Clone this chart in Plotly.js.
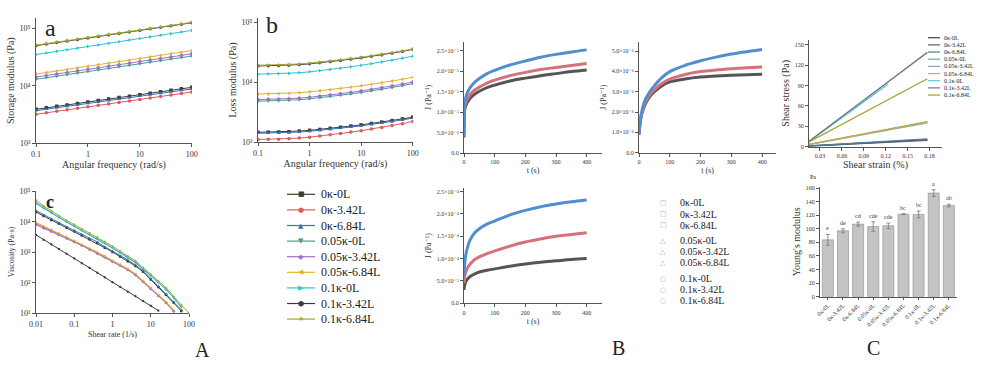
<!DOCTYPE html>
<html><head><meta charset="utf-8">
<script src="https://cdn.plot.ly/plotly-3.0.1.min.js"></script>
<style>html,body{margin:0;padding:0;background:#fff;} #chart{width:1000px;height:372px;}</style>
</head><body><div id="chart"></div>
<script>
// ---------- categories ----------
const seriesNames = ['0κ-0L','0κ-3.42L','0κ-6.84L','0.05κ-0L','0.05κ-3.42L','0.05κ-6.84L','0.1κ-0L','0.1κ-3.42L','0.1κ-6.84L'];

// ---------- a: storage modulus (Pa) vs angular frequency (rad/s) ----------
const angFreq = [0.1,0.158,0.251,0.398,0.631,1,1.58,2.51,3.98,6.31,10,15.8,25.1,39.8,63.1,100];
const gp_0k_0L    = [3900,4140,4390,4650,4930,5230,5550,5880,6240,6610,7010,7440,7880,8360,8870,9400];
const gp_0k_342L  = [3200,3400,3600,3820,4060,4310,4570,4850,5150,5460,5800,6150,6530,6930,7350,7800];
const gp_0k_684L  = [3700,3920,4150,4400,4660,4940,5230,5540,5870,6220,6590,6980,7400,7840,8310,8800];
const gp_005k_0L  = [13000,13830,14720,15660,16670,17740,18870,20080,21370,22740,24200,25750,27400,29160,31030,33000];
const gp_005k_342L= [14200,15110,16080,17110,18200,19370,20600,21920,23330,24820,26410,28100,29900,31810,33840,36000];
const gp_005k_684L= [16000,17040,18140,19310,20560,21890,23310,24820,26420,28130,29950,31890,33950,36150,38490,41000];
const gp_01k_0L   = [35000,37330,39810,42460,45290,48300,51520,54950,58610,62510,66670,71100,75840,80880,86270,92000];
const gp_01k_342L = [50000,53150,56500,60060,63840,67860,72140,76680,81510,86650,92110,97910,104100,110600,117600,125000];
const gp_01k_684L = [51000,54200,57600,61210,65050,69120,73460,78060,82960,88160,93690,99560,105800,112400,119500,127000];
const modTickVals = [1e3,1e4,1e5];
const modTickText = ['10³','10⁴','10⁵'];

// ---------- b: loss modulus (Pa) ----------
const gpp_0k_0L    = [1450,1458,1467,1484,1520,1565,1620,1688,1759,1843,1930,2034,2145,2274,2424,2600];
const gpp_0k_342L  = [1100,1108,1115,1131,1163,1203,1255,1318,1383,1461,1544,1643,1750,1876,2024,2200];
const gpp_0k_684L  = [1400,1408,1416,1433,1467,1510,1563,1628,1697,1777,1862,1960,2065,2186,2334,2500];
const gpp_005k_0L  = [4800,4832,4865,4931,5064,5237,5453,5717,5990,6322,6672,7085,7526,8054,8669,9400];
const gpp_005k_342L= [5100,5134,5169,5239,5381,5564,5794,6074,6365,6717,7089,7528,7997,8558,9211,10000];
const gpp_005k_684L= [6300,6341,6382,6464,6634,6848,7119,7447,7793,8203,8637,9154,9702,10345,11107,12000];
const gpp_01k_0L   = [13500,13595,13689,13878,14270,14769,15404,16173,16970,17928,18954,20169,21479,23018,24840,27000];
const gpp_01k_342L = [18500,18618,18739,18981,19462,20091,20887,21830,22829,24013,25271,26751,28324,30174,32357,35000];
const gpp_01k_684L = [19000,19121,19245,19490,19980,20620,21430,22390,23400,24590,25860,27350,28930,30790,32980,35500];

// ---------- c: viscosity (Pa·s) vs shear rate (1/s) ----------
const shearRate = [0.01,0.0158,0.0251,0.0398,0.0631,0.1,0.158,0.251,0.398,0.631,1,1.58,2.51,3.98,6.31,10,15.8,25.1,39.8,63.1,100];
const eta_0k_0L    = [20900,15500,11500,8710,6460,4900,3630,2690,2000,1410,1020,724,513,355,229,129,72.4,40.7,22.4,12.0];
const eta_0k_342L  = [8710,6760,5250,3980,3020,2290,1740,1290,955,708,513,380,275,186,112,66.1,38.9,22.9,12.0];
const eta_0k_684L  = [23400,17000,12600,9330,6920,5250,3890,2880,2190,1510,1100,776,562,380,251,138,77.6,43.7,24.0,12.9];
const eta_005k_0L  = [39800,27500,19500,13800,9770,7080,5130,3720,2750,1950,1380,955,661,457,282,170,102,60.3,31.6,15.8];
const eta_005k_342L= [7940,6170,4790,3720,2880,2190,1660,1230,912,676,490,363,263,178,107,63.1,37.2,21.9,11.5];
const eta_005k_684L= [9550,7240,5620,4270,3240,2450,1820,1350,1020,741,537,398,288,195,117,69.2,40.7,24.0,12.6];
const eta_01k_0L   = [44700,29500,20400,14100,9980,7240,5250,3800,2820,2000,1410,990,690,480,288,174,105,61.0,32.0,16.5];
const eta_01k_342L = [3720,2570,1820,1290,891,631,437,309,214,151,105,74.1,51.3,36.3,25.1,17.8,12.3];
const eta_01k_684L = [51300,33100,22900,15800,11200,8130,5890,4270,3160,2240,1580,1100,759,525,316,191,115,69.2,35.5,18.6,10];
const etaTickVals = [1e1,1e2,1e3,1e4,1e5];
const etaTickText = ['10¹','10²','10³','10⁴','10⁵'];

// ---------- B: creep compliance J (1/Pa) vs time (s) ----------
const creepTime = [0,2,5,10,20,35,50,75,100,150,200,250,300,350,400];
const J_0k_0L     = [0.30e-4,0.40e-4,0.47e-4,0.53e-4,0.60e-4,0.66e-4,0.70e-4,0.74e-4,0.77e-4,0.83e-4,0.88e-4,0.92e-4,0.95e-4,0.98e-4,1.00e-4];
const J_0k_342L   = [0.45e-4,0.58e-4,0.68e-4,0.77e-4,0.88e-4,0.98e-4,1.04e-4,1.11e-4,1.17e-4,1.28e-4,1.37e-4,1.44e-4,1.50e-4,1.54e-4,1.58e-4];
const J_0k_684L   = [0.60e-4,0.85e-4,1.05e-4,1.22e-4,1.42e-4,1.58e-4,1.67e-4,1.77e-4,1.84e-4,1.98e-4,2.08e-4,2.16e-4,2.22e-4,2.27e-4,2.31e-4];
const J_005k_0L   = [0.38e-5,1.03e-5,1.14e-5,1.23e-5,1.34e-5,1.44e-5,1.51e-5,1.60e-5,1.66e-5,1.76e-5,1.83e-5,1.89e-5,1.94e-5,1.99e-5,2.03e-5];
const J_005k_342L = [0.40e-5,1.09e-5,1.20e-5,1.31e-5,1.43e-5,1.54e-5,1.61e-5,1.71e-5,1.78e-5,1.89e-5,1.97e-5,2.04e-5,2.09e-5,2.14e-5,2.19e-5];
const J_005k_684L = [0.45e-5,1.19e-5,1.33e-5,1.46e-5,1.60e-5,1.73e-5,1.82e-5,1.94e-5,2.02e-5,2.15e-5,2.25e-5,2.34e-5,2.41e-5,2.47e-5,2.52e-5];
const J_01k_0L    = [0.90e-6,1.25e-6,1.60e-6,1.95e-6,2.38e-6,2.76e-6,3.00e-6,3.30e-6,3.48e-6,3.63e-6,3.72e-6,3.77e-6,3.81e-6,3.84e-6,3.86e-6];
const J_01k_342L  = [0.90e-6,1.30e-6,1.65e-6,2.00e-6,2.45e-6,2.85e-6,3.10e-6,3.42e-6,3.62e-6,3.85e-6,3.99e-6,4.07e-6,4.13e-6,4.18e-6,4.22e-6];
const J_01k_684L  = [0.90e-6,1.30e-6,1.70e-6,2.10e-6,2.60e-6,3.00e-6,3.30e-6,3.70e-6,3.99e-6,4.30e-6,4.52e-6,4.70e-6,4.85e-6,4.97e-6,5.08e-6];
const J1_tickText = ['0.0','5.0×10⁻⁶','1.0×10⁻⁵','1.5×10⁻⁵','2.0×10⁻⁵','2.5×10⁻⁵'];
const J1_tickVals = [0,5e-6,1e-5,1.5e-5,2e-5,2.5e-5];
const J2_tickText = ['0.0','1.0×10⁻⁶','2.0×10⁻⁶','3.0×10⁻⁶','4.0×10⁻⁶','5.0×10⁻⁶'];
const J2_tickVals = [0,1e-6,2e-6,3e-6,4e-6,5e-6];
const J3_tickText = ['0.0','5.0×10⁻⁵','1.0×10⁻⁴','1.5×10⁻⁴','2.0×10⁻⁴','2.5×10⁻⁴'];
const J3_tickVals = [0,5e-5,1e-4,1.5e-4,2e-4,2.5e-4];

// ---------- C top: shear stress (Pa) vs shear strain (%) ----------
const strainLong  = [0.015,0.05,0.09,0.13,0.177];
const strainShort = [0.015,0.05,0.09,0.123];
const tau_0k_0L    = [1.0,3.2,5.6,7.9,10.4];
const tau_0k_342L  = [0.8,2.8,5.0,7.2,9.4];
const tau_0k_684L  = [1.2,3.5,6.1,8.7,11.6];
const tau_005k_0L  = [3.5,10.8,19.0,27.2,36.8];
const tau_005k_342L= [3.2,10.2,18.1,26.0,35.0];
const tau_005k_684L= [3.4,10.6,18.6,26.7,36.0];
const tau_01k_0L   = [7.5,35.0,66.5,92.0];
const tau_01k_342L = [8.0,36.3,68.6,100.9,138.8];
const tau_01k_684L = [7.0,27.1,50.1,73.0,100.0];

// ---------- C bottom: Young's modulus (Pa) ----------
const youngMod    = [83.7,97.0,106.9,103.3,104.4,121.6,121.2,152.6,134.3];
const youngErr    = [8,3,3,7,4,0.6,5,5,2];
const youngLetters= ['e','de','cd','cde','cde','bc','bc','a','ab'];

// ---------- styling ----------
const W = 1000, H = 372;
const FONT = '"Liberation Serif", "DejaVu Serif", serif';
const seriesColors = ['#3c3c3c','#e0585a','#3a6fb5','#3fa08f','#9b72c8','#e0b030','#28c4d4','#3d3550','#a8a830'];
const seriesSymbols = ['square','circle','triangle-up','triangle-down','diamond','triangle-left','triangle-right','hexagon','star'];
const legendGlyphs = ['■','●','▲','▼','◆','◀','▶','⬢','★'];
const creepGlyphs = ['□','□','□','△','△','△','○','○','○'];
const creepColors = ['#555555','#d8707a','#4f8fd0'];
const shearColors = ['#404040','#5a5f6a','#4a7f9a','#6aaa9a','#9aa0a8','#c8b040','#5ac8d0','#707585','#a0a028'];

function xd(l,r){return [l/W, r/W];}
function yd(t,b){return [1-b/H, 1-t/H];}
function px(x){return x/W;}
function py(y){return 1-y/H;}

const storageSeries = [gp_0k_0L,gp_0k_342L,gp_0k_684L,gp_005k_0L,gp_005k_342L,gp_005k_684L,gp_01k_0L,gp_01k_342L,gp_01k_684L];
const lossSeries = [gpp_0k_0L,gpp_0k_342L,gpp_0k_684L,gpp_005k_0L,gpp_005k_342L,gpp_005k_684L,gpp_01k_0L,gpp_01k_342L,gpp_01k_684L];
const etaSeries = [eta_0k_0L,eta_0k_342L,eta_0k_684L,eta_005k_0L,eta_005k_342L,eta_005k_684L,eta_01k_0L,eta_01k_342L,eta_01k_684L];
const creepSeries = [J_0k_0L,J_0k_342L,J_0k_684L,J_005k_0L,J_005k_342L,J_005k_684L,J_01k_0L,J_01k_342L,J_01k_684L];
const creepAxes = [['x6','y6'],['x6','y6'],['x6','y6'],['x4','y4'],['x4','y4'],['x4','y4'],['x5','y5'],['x5','y5'],['x5','y5']];
const tauSeries = [tau_0k_0L,tau_0k_342L,tau_0k_684L,tau_005k_0L,tau_005k_342L,tau_005k_684L,tau_01k_0L,tau_01k_342L,tau_01k_684L];

const traces = [];
seriesNames.forEach((n,i)=>{
  traces.push({x:angFreq,y:storageSeries[i],xaxis:'x',yaxis:'y',mode:'lines+markers',name:n,showlegend:false,
    line:{color:seriesColors[i],width:1},marker:{symbol:seriesSymbols[i],size:3.5,color:seriesColors[i]}});
  traces.push({x:angFreq,y:lossSeries[i],xaxis:'x2',yaxis:'y2',mode:'lines+markers',name:n,showlegend:false,
    line:{color:seriesColors[i],width:1},marker:{symbol:seriesSymbols[i],size:3.5,color:seriesColors[i]}});
  traces.push({x:shearRate,y:etaSeries[i],xaxis:'x3',yaxis:'y3',mode:'lines+markers',name:n,showlegend:false,
    line:{color:seriesColors[i],width:1},marker:{symbol:seriesSymbols[i],size:2.5,color:seriesColors[i]}});
  traces.push({x:creepTime,y:creepSeries[i],xaxis:creepAxes[i][0],yaxis:creepAxes[i][1],mode:'lines',name:n,showlegend:false,
    line:{color:creepColors[i%3],width:3,shape:'spline'}});
  traces.push({x:(i===6?strainShort:strainLong),y:tauSeries[i],xaxis:'x7',yaxis:'y7',mode:'lines',name:n,showlegend:false,
    line:{color:shearColors[i],width:1.3}});
});
traces.push({type:'bar',x:seriesNames,y:youngMod,xaxis:'x8',yaxis:'y8',showlegend:false,
  marker:{color:'#c4c4c4',line:{color:'#8a8a8a',width:0.6}},
  error_y:{type:'data',array:youngErr,color:'#777',thickness:0.8,width:2}});

const axBase = {showline:true,linecolor:'#555',linewidth:1,ticks:'outside',ticklen:3,tickwidth:1,tickcolor:'#555',
  showgrid:false,zeroline:false};
function ax(extra, tf, ttl, tsize){
  const o = Object.assign({}, axBase, extra);
  o.tickfont = {family:FONT,size:tf,color:'#333'};
  if(ttl) o.title = {text:ttl,font:{family:FONT,size:tsize,color:'#333'},standoff:3};
  return o;
}

const layout = {
  width:W,height:H,margin:{l:0,r:0,t:0,b:0},paper_bgcolor:'#fff',plot_bgcolor:'rgba(0,0,0,0)',
  showlegend:false,bargap:0.27,
  xaxis: ax({domain:xd(36,192),anchor:'y',type:'log',range:[-1,2.005],dtick:1},8,'Angular frequency (rad/s)',10),
  yaxis: ax({domain:yd(18,143.3),anchor:'x',type:'log',range:[3,5.18],tickvals:modTickVals,ticktext:modTickText},8,'Storage modulus (Pa)',10),
  xaxis2: ax({domain:xd(258,413),anchor:'y2',type:'log',range:[-1,2.005],dtick:1},8,'Angular frequency (rad/s)',10),
  yaxis2: ax({domain:yd(18,142),anchor:'x2',type:'log',range:[3,5.067],tickvals:modTickVals,ticktext:modTickText},8,'Loss modulus (Pa)',10),
  xaxis3: ax({domain:xd(36,189),anchor:'y3',type:'log',range:[-2,2],dtick:1},8,'Shear rate (1/s)',8),
  yaxis3: ax({domain:yd(190.5,313.3),anchor:'x3',type:'log',range:[1,5.026],tickvals:etaTickVals,ticktext:etaTickText},8,'Viscosity (Pa·s)',8),
  xaxis4: ax({domain:xd(464,602),anchor:'y4',range:[0,450],tickvals:[0,100,200,300,400]},6,'t (s)',8),
  yaxis4: ax({domain:yd(41.7,153),anchor:'x4',range:[0,2.72e-5],tickvals:J1_tickVals,ticktext:J1_tickText},6,'J (Pa⁻¹)',8),
  xaxis5: ax({domain:xd(639,776),anchor:'y5',range:[0,445],tickvals:[0,100,200,300,400]},6,'t (s)',8),
  yaxis5: ax({domain:yd(41.7,152.7),anchor:'x5',range:[0,5.46e-6],tickvals:J2_tickVals,ticktext:J2_tickText},6,'J (Pa⁻¹)',8),
  xaxis6: ax({domain:xd(464,602),anchor:'y6',range:[0,450],tickvals:[0,100,200,300,400]},6,'t (s)',8),
  yaxis6: ax({domain:yd(188,303.3),anchor:'x6',range:[0,2.58e-4],tickvals:J3_tickVals,ticktext:J3_tickText},6,'J (Pa⁻¹)',8),
  xaxis7: ax({domain:xd(809,942),anchor:'y7',range:[0.015,0.197],tick0:0,dtick:0.03,tickformat:'.2f'},6,'Shear strain (%)',10),
  yaxis7: ax({domain:yd(40,146.7),anchor:'x7',range:[0,157],dtick:30},6,'Shear stress (Pa)',10),
  xaxis8: ax({domain:xd(820,957),anchor:'y8',type:'category',range:[-0.52,8.54],tickangle:-45,ticklen:2},6,null,0),
  yaxis8: ax({domain:yd(186.7,296.7),anchor:'x8',range:[0,162],dtick:20},6,"Young's modulus",10),
  shapes:[], annotations:[]
};

function ann(x,y,text,size,extra){
  return Object.assign({xref:'paper',yref:'paper',x:px(x),y:py(y),text:text,showarrow:false,
    xanchor:'center',yanchor:'middle',font:{family:FONT,size:size,color:'#222'}},extra||{});
}
// panel letters
layout.annotations.push(ann(50,28,'a',24));
layout.annotations.push(ann(272,25,'b',24));
layout.annotations.push(ann(50,202,'c',18,{font:{family:FONT,size:18,color:'#222',weight:'bold'}}));
layout.annotations.push(ann(202,350,'A',20));
layout.annotations.push(ann(618,348,'B',20));
layout.annotations.push(ann(873,348,'C',20));
layout.annotations.push(ann(813,177,'Pa',6));

// legend A (line + marker)
seriesNames.forEach((n,i)=>{
  const y = 194.3 + i*15.6;
  layout.shapes.push({type:'line',xref:'paper',yref:'paper',x0:px(287),x1:px(315),y0:py(y),y1:py(y),line:{color:seriesColors[i],width:1.2}});
  layout.annotations.push(ann(301,y,legendGlyphs[i],7,{font:{family:'DejaVu Sans',size:7,color:seriesColors[i]}}));
  layout.annotations.push(ann(319,y,n,12,{xanchor:'left'}));
});
// legend B (markers)
seriesNames.forEach((n,i)=>{
  const y = 203 + i*11 + Math.floor(i/3)*4.8;
  layout.annotations.push(ann(663,y,creepGlyphs[i],7,{font:{family:'DejaVu Sans',size:7,color:'#a6acb4'}}));
  layout.annotations.push(ann(678,y,n,10,{xanchor:'left'}));
});
// legend shear stress (lines)
seriesNames.forEach((n,i)=>{
  const y = 37.7 + i*7.17;
  layout.shapes.push({type:'line',xref:'paper',yref:'paper',x0:px(928),x1:px(940),y0:py(y),y1:py(y),line:{color:shearColors[i],width:1.2}});
  layout.annotations.push(ann(942,y,n,6,{xanchor:'left'}));
});
// Young's modulus letters
youngLetters.forEach((t,i)=>{
  layout.annotations.push({xref:'x8',yref:'y8',x:seriesNames[i],y:youngMod[i]+youngErr[i],text:t,showarrow:false,
    yanchor:'bottom',yshift:1,font:{family:FONT,size:6,color:'#333'}});
});

Plotly.newPlot('chart',traces,layout,{displayModeBar:false,staticPlot:true});
</script></body></html>
